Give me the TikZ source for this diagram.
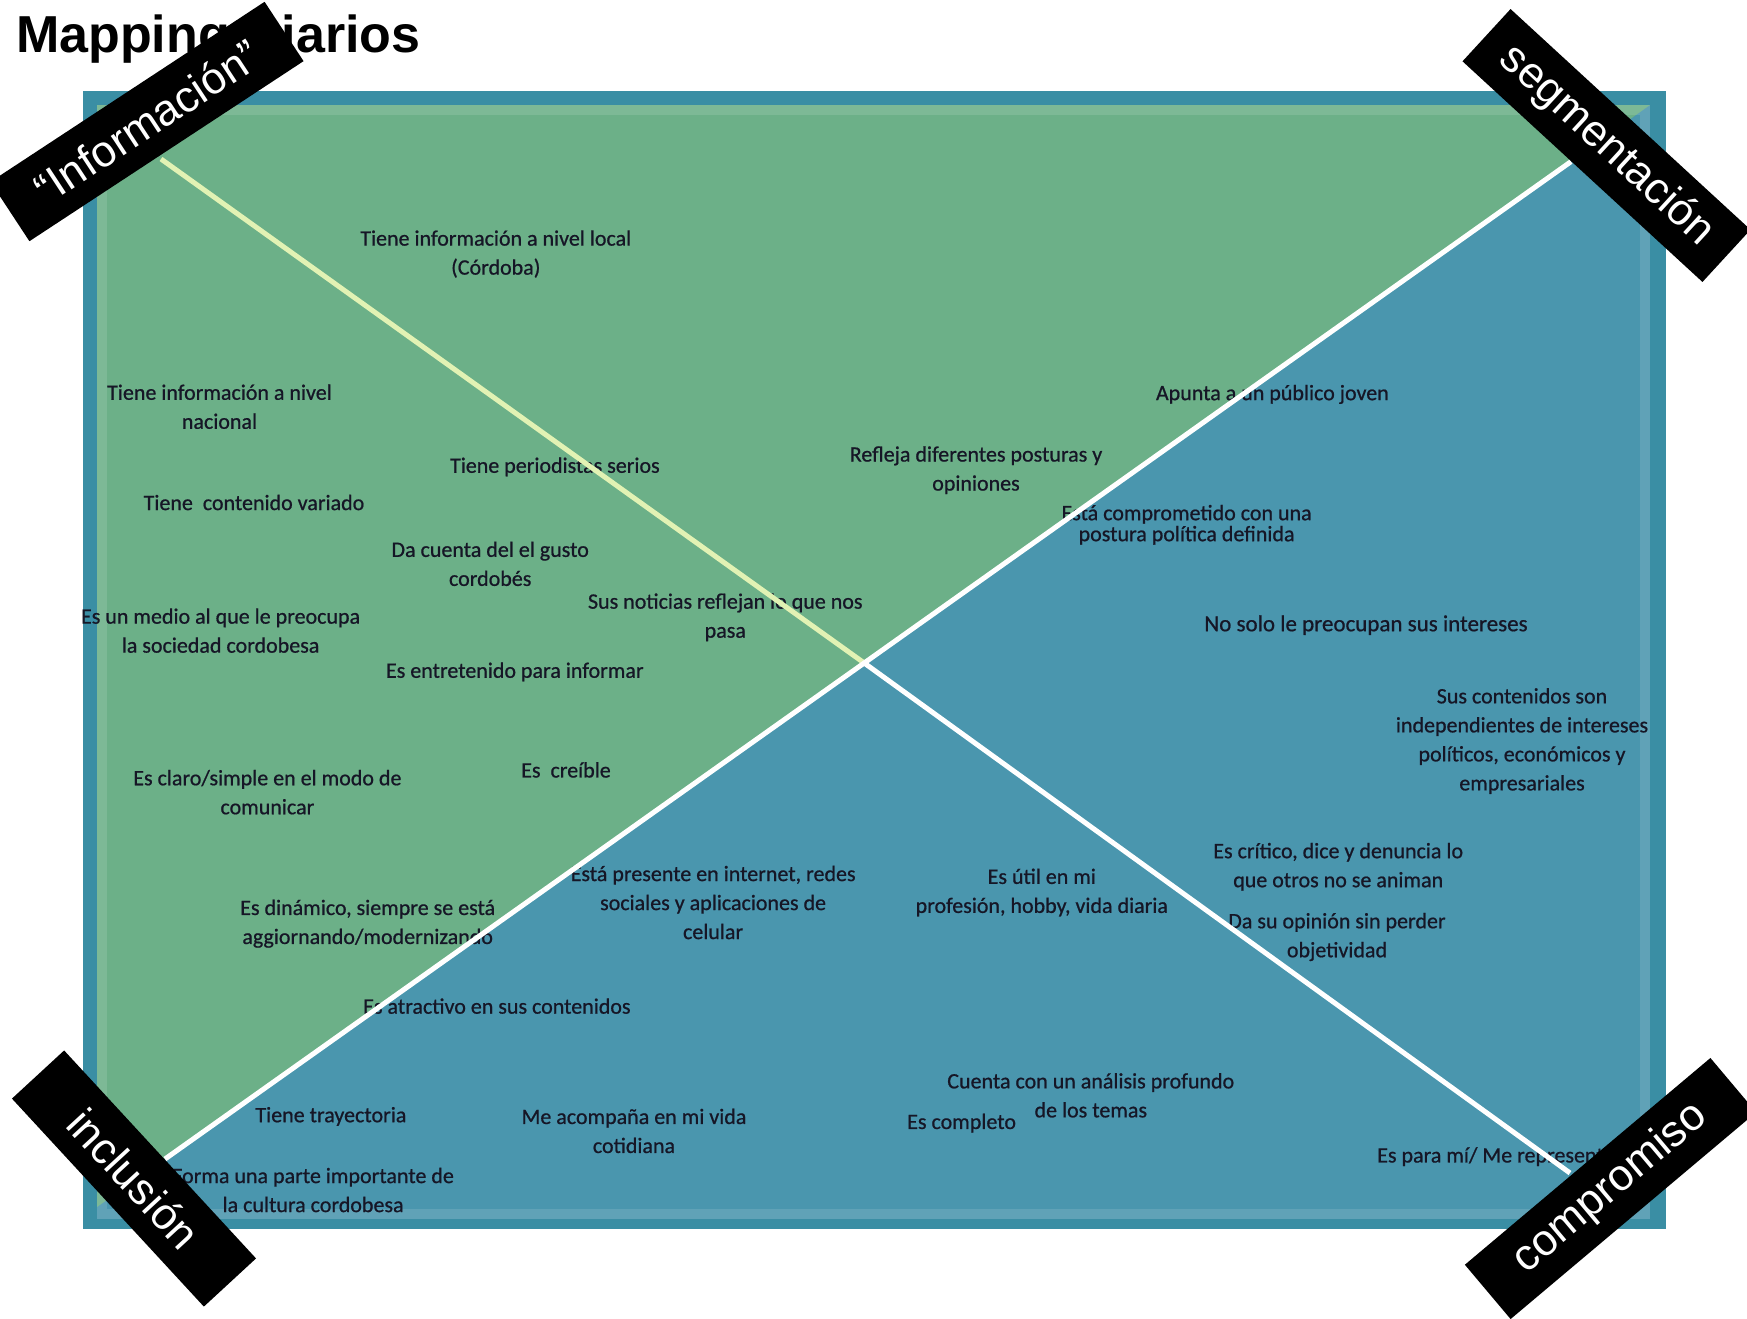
\documentclass[tikz,border=0pt]{standalone}
\usepackage{fontspec}
\setmainfont{Carlito}
\newfontfamily\txtfont{Carlito}[FakeBold=0.7]
\newfontfamily\labelfont{Liberation Sans}
\definecolor{frameC}{RGB}{58,142,164}
\definecolor{blueC}{RGB}{74,150,174}
\definecolor{greenC}{RGB}{108,176,136}
\definecolor{txtC}{RGB}{22,22,38}
\definecolor{lineY}{RGB}{226,242,180}
\tikzset{
  txt/.style={align=center, inner sep=0pt, text=txtC, font=\txtfont\fontsize{22}{29}\selectfont},
  ribbon/.style={fill=black, text=white, inner sep=0pt, minimum height=71pt,
    font=\labelfont\fontsize{44}{44}\selectfont},
  axis/.style={line width=5pt, white},
  axisY/.style={line width=5pt, lineY}
}
\begin{document}
\begin{tikzpicture}[x=1pt,y=-1pt]
\useasboundingbox (0,0) rectangle (1747,1318);
% frame and regions
\fill[frameC] (83,91) rectangle (1666,1229);
\fill[blueC] (97,105) rectangle (1650,1219);
\fill[greenC] (97,105) -- (1650,105) -- (97,1207) -- cycle;
\draw[white, opacity=0.12, line width=10pt] (102,110) rectangle (1645,1214);
% title
\node[anchor=base west, inner sep=0pt, font=\labelfont\bfseries\fontsize{52}{52}\selectfont] (title) at (16,52) {Mapping Diarios};
% texts
\node[txt] (t1) at (495.8,254) {Tiene información a nivel local\\(Córdoba)};
\node[txt] (t2) at (219.5,406.7) {Tiene información a nivel\\nacional};
\node[txt] (t3) at (554.9,466.9) {Tiene periodistas serios};
\node[txt] (t4) at (254,502.5) {Tiene\ \ contenido variado};
\node[txt] (t5) at (490.2,563.8) {Da cuenta del el gusto\\cordobés};
\node[txt] (t6) at (220.6,630.6) {Es un medio al que le preocupa\\la sociedad cordobesa};
\node[txt] (t7) at (725.3,617.3) {Sus noticias reflejan lo que nos\\pasa};
\node[txt] (t8) at (514.8,671.9) {Es entretenido para informar};
\node[txt] (t9) at (267.4,792.2) {Es claro/simple en el modo de\\comunicar};
\node[txt] (t10) at (566,769.9) {Es\ \ creíble};
\node[txt] (t11) at (976,470.2) {Refleja diferentes posturas y\\opiniones};
\node[txt] (t12) at (1272.4,394.4) {Apunta a un público joven};
\node[txt, font=\txtfont\fontsize{22}{21}\selectfont] (t13) at (1186.6,524.8) {Está comprometido con una\\postura política definida};
\node[txt, font=\txtfont\fontsize{23}{29}\selectfont] (t14) at (1366,625.1) {No solo le preocupan sus intereses};
\node[txt] (t15) at (1522,741) {Sus contenidos son\\independientes de intereses\\políticos, económicos y\\empresariales};
\node[txt] (t16) at (1338.2,866.8) {Es crítico, dice y denuncia lo\\que otros no se animan};
\node[txt] (t17) at (1337,937) {Da su opinión sin perder\\objetividad};
\node[txt] (t18) at (1041.8,892.5) {Es útil en mi\\profesión, hobby, vida diaria};
\node[txt] (t19) at (713.1,902.5) {Está presente en internet, redes\\sociales y aplicaciones de\\celular};
\node[txt] (t20) at (367.7,923.7) {Es dinámico, siempre se está\\aggiornando/modernizando};
\node[txt] (t21) at (496.9,1006.1) {Es atractivo en sus contenidos};
\node[txt] (t22) at (330.9,1116.4) {Tiene trayectoria};
\node[txt] (t23) at (634,1130.9) {Me acompaña en mi vida\\cotidiana};
\node[txt] (t24) at (313.1,1190) {Forma una parte importante de\\la cultura cordobesa};
\node[txt] (t25) at (1090.8,1095.3) {Cuenta con un análisis profundo\\de los temas};
\node[txt] (t26) at (961.6,1123.1) {Es completo};
\node[txt, anchor=west] (t27) at (1377,1156.6) {Es para mí/ Me representa};
% axes
\coordinate (tl) at (161,159);
\coordinate (ctr) at (863.5,662.5);
\coordinate (br) at (1570,1173);
\coordinate (bl) at (165,1159);
\coordinate (tr) at (1571,161.6);
\draw[axisY] (tl) -- (ctr);
\draw[axis] (ctr) -- (br);
\draw[axis] (bl) -- (tr);
% ribbons
\node[ribbon, minimum width=328pt, rotate=33.3] (info) at (147,121.5) {“Información”};
\node[ribbon, minimum width=326pt, rotate=-42.6] (seg) at (1606.5,145.5) {segmentación};
\node[ribbon, minimum width=283pt, rotate=-47.3] (incl) at (134,1178.5) {inclusión};
\node[ribbon, minimum width=321pt, rotate=40.1] (comp) at (1610.5,1188.5) {compromiso};
\end{tikzpicture}
\end{document}
